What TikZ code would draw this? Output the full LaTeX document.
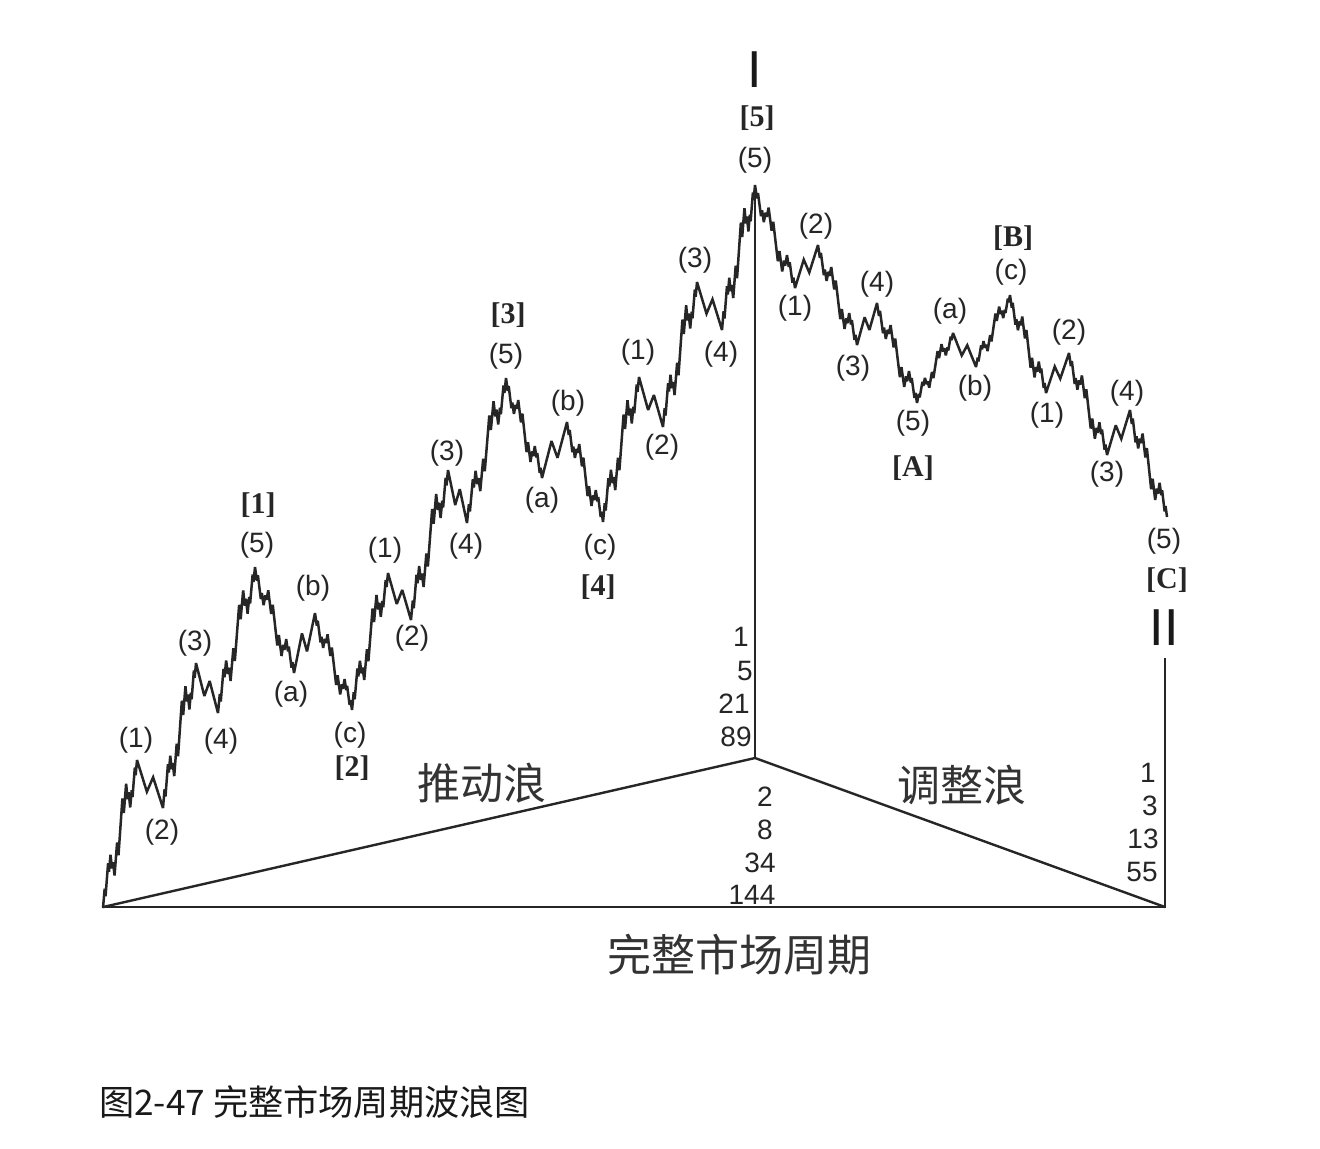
\documentclass[tikz,border=0pt]{standalone}
\usepackage{fontspec}
\setmainfont{Liberation Sans}
\newfontfamily\cjk{Noto Sans CJK SC}
\newfontfamily\serifb{Liberation Serif}

% ---- Elliott-style zigzag generator (pgf basic layer) ----
\newcommand\wpt[2]{\pgfpathlineto{\pgfpointxy{#1}{#2}}}
\def\wleg#1#2#3#4#5#6{%
  \ifnum#2=0 \wpt{#5}{#6}%
  \else
    \ifnum#1=5 \wimp{#2}{#3}{#4}{#5}{#6}\else \wcor{#2}{#3}{#4}{#5}{#6}\fi
  \fi}
\def\wimp#1#2#3#4#5{%
  \pgfmathsetmacro\qax{#2+(#4-#2)*0.22}\pgfmathsetmacro\qay{#3+(#5-#3)*0.36}%
  \pgfmathsetmacro\qbx{#2+(#4-#2)*0.34}\pgfmathsetmacro\qby{#3+(#5-#3)*0.22}%
  \pgfmathsetmacro\qcx{#2+(#4-#2)*0.68}\pgfmathsetmacro\qcy{#3+(#5-#3)*0.84}%
  \pgfmathsetmacro\qdx{#2+(#4-#2)*0.80}\pgfmathsetmacro\qdy{#3+(#5-#3)*0.68}%
  \edef\qdep{\the\numexpr#1-1\relax}%
  \edef\qnext{\noexpand\wleg{5}{\qdep}{#2}{#3}{\qax}{\qay}%
    \noexpand\wleg{3}{\qdep}{\qax}{\qay}{\qbx}{\qby}%
    \noexpand\wleg{5}{\qdep}{\qbx}{\qby}{\qcx}{\qcy}%
    \noexpand\wleg{3}{\qdep}{\qcx}{\qcy}{\qdx}{\qdy}%
    \noexpand\wleg{5}{\qdep}{\qdx}{\qdy}{#4}{#5}}%
  \qnext}
\def\wcor#1#2#3#4#5{%
  \pgfmathsetmacro\qax{#2+(#4-#2)*0.38}\pgfmathsetmacro\qay{#3+(#5-#3)*0.66}%
  \pgfmathsetmacro\qbx{#2+(#4-#2)*0.62}\pgfmathsetmacro\qby{#3+(#5-#3)*0.36}%
  \edef\qdep{\the\numexpr#1-1\relax}%
  \edef\qnext{\noexpand\wleg{5}{\qdep}{#2}{#3}{\qax}{\qay}%
    \noexpand\wleg{3}{\qdep}{\qax}{\qay}{\qbx}{\qby}%
    \noexpand\wleg{5}{\qdep}{\qbx}{\qby}{#4}{#5}}%
  \qnext}
% impulse leg (depth 2) and corrective leg (depth 1) from the last point
\def\wI#1#2{\wleg{5}{2}{\wlx}{\wly}{#1}{#2}\gdef\wlx{#1}\gdef\wly{#2}}
\def\wC#1#2{\wleg{3}{1}{\wlx}{\wly}{#1}{#2}\gdef\wlx{#1}\gdef\wly{#2}}

\tikzset{
  lab/.style={font=\fontsize{14}{14}\selectfont, inner sep=0pt, text=black!85},
  blab/.style={font=\serifb\bfseries\fontsize{15}{15}\selectfont, inner sep=0pt, text=black!85},
  num/.style={font=\fontsize{14}{14}\selectfont, inner sep=0pt, text=black!85},
  roman/.style={font=\fontsize{26}{26}\selectfont, inner sep=0pt, text=black!90},
  cjkl/.style={font=\cjk\fontsize{21.5}{21.5}\selectfont, inner sep=0pt, text=black!80},
  axis/.style={line width=1.2pt, draw=black!85},
}

\begin{document}
\begin{tikzpicture}[x=0.5pt, y=-0.5pt]
\useasboundingbox[fill=white] (0,0) rectangle (1320,1148);

% ---- axes / triangle ----
\coordinate (O) at (103,907);
\coordinate (Apex) at (755,758);
\coordinate (Top) at (755,187);
\coordinate (R) at (1165,907);
\coordinate (RTop) at (1165,658);
\draw[axis] (O) -- (R) -- (RTop);
\draw[axis] (O) -- (Apex) -- (R);
\draw[axis, line width=1pt] (Apex) -- (Top);

% ---- wave path ----
\pgfsetlinewidth{1.25pt}
\pgfsetcolor{black!85}
\pgfsetmiterlimit{3}
\pgfpathmoveto{\pgfpointxy{103}{908}}\gdef\wlx{103}\gdef\wly{908}
% [1]
\wI{137}{760}\wC{163}{808}\wI{196}{663}\wC{218}{713}\wI{255}{567}
% [2]
\wI{294}{673}\wC{315}{613}\wI{352}{710}
% [3]
\wI{388}{573}\wC{411}{620}\wI{448}{470}\wC{467}{523}\wI{506}{378}
% [4]
\wI{542}{478}\wC{567}{422}\wI{603}{522}
% [5]
\wI{639}{377}\wC{663}{427}\wI{697}{282}\wC{722}{330}\wI{755}{185}
% [A]
\wI{795}{288}\wC{818}{245}\wI{857}{345}\wC{877}{303}\wI{917}{403}
% [B]
\wI{953}{333}\wC{976}{367}\wI{1010}{295}
% [C]
\wI{1046}{393}\wC{1069}{353}\wI{1107}{455}\wC{1130}{410}\wI{1167}{517}
\pgfusepath{stroke}

% ---- wave labels: impulse ----
\node[lab] (l1a) at (136,740) {(1)};
\node[lab] (l1b) at (162,832) {(2)};
\node[lab] (l1c) at (195,643) {(3)};
\node[lab] (l1d) at (221,741) {(4)};
\node[lab] (l1e) at (257,545) {(5)};
\node[blab] (L1) at (258,505) {[1]};
\node[lab] (l2a) at (291,694) {(a)};
\node[lab] (l2b) at (313,588) {(b)};
\node[lab] (l2c) at (350,735) {(c)};
\node[blab] (L2) at (352,768) {[2]};
\node[lab] (l3a) at (385,550) {(1)};
\node[lab] (l3b) at (412,638) {(2)};
\node[lab] (l3c) at (447,453) {(3)};
\node[lab] (l3d) at (466,546) {(4)};
\node[lab] (l3e) at (506,356) {(5)};
\node[blab] (L3) at (508,315) {[3]};
\node[lab] (l4a) at (542,500) {(a)};
\node[lab] (l4b) at (568,403) {(b)};
\node[lab] (l4c) at (600,547) {(c)};
\node[blab] (L4) at (598,587) {[4]};
\node[lab] (l5a) at (638,352) {(1)};
\node[lab] (l5b) at (662,447) {(2)};
\node[lab] (l5c) at (695,260) {(3)};
\node[lab] (l5d) at (721,354) {(4)};
\node[lab] (l5e) at (755,160) {(5)};
\node[blab] (L5) at (757,118) {[5]};
\node[roman] (RI) at (755,70) {I};

% ---- wave labels: correction ----
\node[lab] (lAa) at (795,308) {(1)};
\node[lab] (lAb) at (816,226) {(2)};
\node[lab] (lAc) at (853,368) {(3)};
\node[lab] (lAd) at (877,284) {(4)};
\node[lab] (lAe) at (913,423) {(5)};
\node[blab] (LA) at (913,468) {[A]};
\node[lab] (lBa) at (950,311) {(a)};
\node[lab] (lBb) at (975,388) {(b)};
\node[lab] (lBc) at (1011,272) {(c)};
\node[blab] (LB) at (1013,238) {[B]};
\node[lab] (lCa) at (1047,415) {(1)};
\node[lab] (lCb) at (1069,332) {(2)};
\node[lab] (lCc) at (1107,474) {(3)};
\node[lab] (lCd) at (1127,393) {(4)};
\node[lab] (lCe) at (1164,541) {(5)};
\node[blab] (LC) at (1167,580) {[C]};
\node[roman] (RII) at (1164,628) {II};

% ---- Fibonacci counts ----
\node[num] (n1) at (741,637) {1};
\node[num] (n5) at (745,671) {5};
\node[num] (n21) at (734,704) {21};
\node[num] (n89) at (736,737) {89};
\node[num] (m2) at (765,797) {2};
\node[num] (m8) at (765,830) {8};
\node[num] (m34) at (760,863) {34};
\node[num] (m144) at (752,895) {144};
\node[num] (k1) at (1148,773) {1};
\node[num] (k3) at (1150,806) {3};
\node[num] (k13) at (1143,839) {13};
\node[num] (k55) at (1142,872) {55};

% ---- Chinese titles ----
\node[cjkl] (imp) at (482,783) {推动浪};
\node[cjkl] (cor) at (962,785) {调整浪};
\node[cjkl, font=\cjk\fontsize{22}{22}\selectfont] (cyc) at (739,955) {完整市场周期};
\node[anchor=west, inner sep=0pt, font=\cjk\fontsize{17.6}{17.6}\selectfont, text=black!90] (cap) at (98,1102) {图2-47 完整市场周期波浪图};
\end{tikzpicture}
\end{document}
